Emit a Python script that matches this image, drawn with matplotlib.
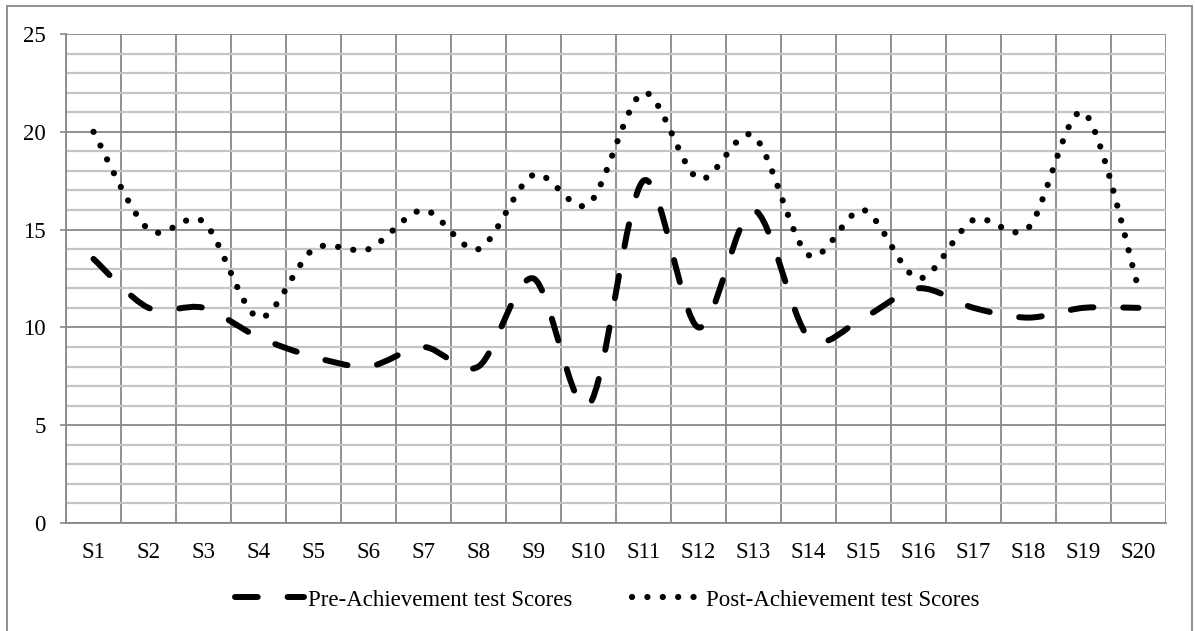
import matplotlib
matplotlib.use("Agg")
import matplotlib.pyplot as plt
from matplotlib.path import Path
from matplotlib.patches import PathPatch, Rectangle
from matplotlib.lines import Line2D
import numpy as np

# Chart data
students = ["S%d" % i for i in range(1, 21)]
pre_scores = [13.5, 11, 11, 9.5, 8.5, 8, 9, 8, 12.5, 6,
              17.5, 10, 16, 9.5, 10.5, 12, 11, 10.5, 11, 11]
post_scores = [20, 15, 15.4, 10.5, 14, 14, 16, 14, 17.8, 16.3,
               22, 17.6, 19.8, 13.7, 16, 12.5, 15.5, 15.1, 21, 12]

plt.rcParams["font.family"] = ["Liberation Serif", "DejaVu Serif"]
plt.rcParams["font.size"] = 16.5

PRE_STYLE = (0, (3.8, 5.0))
POST_STYLE = (0, (0.01, 2.45))


def smooth_path(xs, ys):
    # Excel style smoothed line: bezier segments through every point
    pts = np.column_stack([xs, ys]).astype(float)
    n = len(pts)
    verts = [pts[0]]
    codes = [Path.MOVETO]
    for i in range(n - 1):
        p0 = pts[i - 1] if i > 0 else pts[i]
        p1 = pts[i]
        p2 = pts[i + 1]
        p3 = pts[i + 2] if i + 2 < n else pts[i + 1]
        c1 = p1 + (p2 - p0) / 6.5
        c2 = p2 - (p3 - p1) / 6.5
        verts += [c1, c2, p2]
        codes += [Path.CURVE4] * 3
    return Path(verts, codes)


fig = plt.figure(figsize=(11.95, 6.31), dpi=100)
ax = fig.add_axes([66 / 1195, 1 - 523 / 631, 1100 / 1195, 489 / 631])

x = np.arange(len(students))

pre_patch = PathPatch(smooth_path(x, pre_scores), facecolor="none", edgecolor="black",
                      linewidth=4.3, linestyle=PRE_STYLE, capstyle="round", zorder=3)
post_patch = PathPatch(smooth_path(x, post_scores), facecolor="none", edgecolor="black",
                       linewidth=4.5, linestyle=POST_STYLE, capstyle="round", zorder=3)
ax.add_patch(pre_patch)
ax.add_patch(post_patch)

ax.set_xlim(-0.5, len(students) - 0.5)
ax.set_ylim(0, 25)
ax.set_xticks(x)
ax.set_xticklabels(students)
ax.set_yticks([0, 5, 10, 15, 20, 25])
ax.set_yticks(np.arange(0, 26, 1), minor=True)
ax.set_xticks(np.arange(-0.5, len(students), 1), minor=True)

ax.grid(which="minor", axis="y", color="#c4c4c4", linewidth=1.6, zorder=0)
ax.grid(which="major", axis="y", color="#888888", linewidth=1.3, zorder=1)
ax.grid(which="minor", axis="x", color="#888888", linewidth=1.3, zorder=1)
ax.set_axisbelow(True)

ax.tick_params(axis="x", which="both", length=0, pad=14)
ax.tick_params(axis="y", which="major", length=4.5, width=1.2, color="#888888", pad=10)
ax.tick_params(axis="y", which="minor", length=0)

for side in ["top", "right"]:
    ax.spines[side].set_visible(False)
for side in ["left", "bottom"]:
    ax.spines[side].set_color("#888888")
    ax.spines[side].set_linewidth(1.3)

handles = [
    Line2D([], [], color="black", linewidth=4.3, linestyle=PRE_STYLE,
           dash_capstyle="round"),
    Line2D([], [], color="black", linewidth=4.5, linestyle=POST_STYLE,
           dash_capstyle="round"),
]
fig.legend(handles, ["Pre-Achievement test Scores", "Post-Achievement test Scores"],
           loc="center", bbox_to_anchor=(0.508, 1 - 600 / 631), ncol=2, frameon=False,
           handlelength=3.0, handletextpad=0.2, columnspacing=2.6, fontsize=16.5)

# outer chart border
fig.patches.append(Rectangle((7 / 1195, -0.02), 1185 / 1195, 1 - 6 / 631 + 0.02,
                             transform=fig.transFigure, fill=False,
                             edgecolor="#888888", linewidth=1.3))

fig.savefig("out.png", dpi=100)
